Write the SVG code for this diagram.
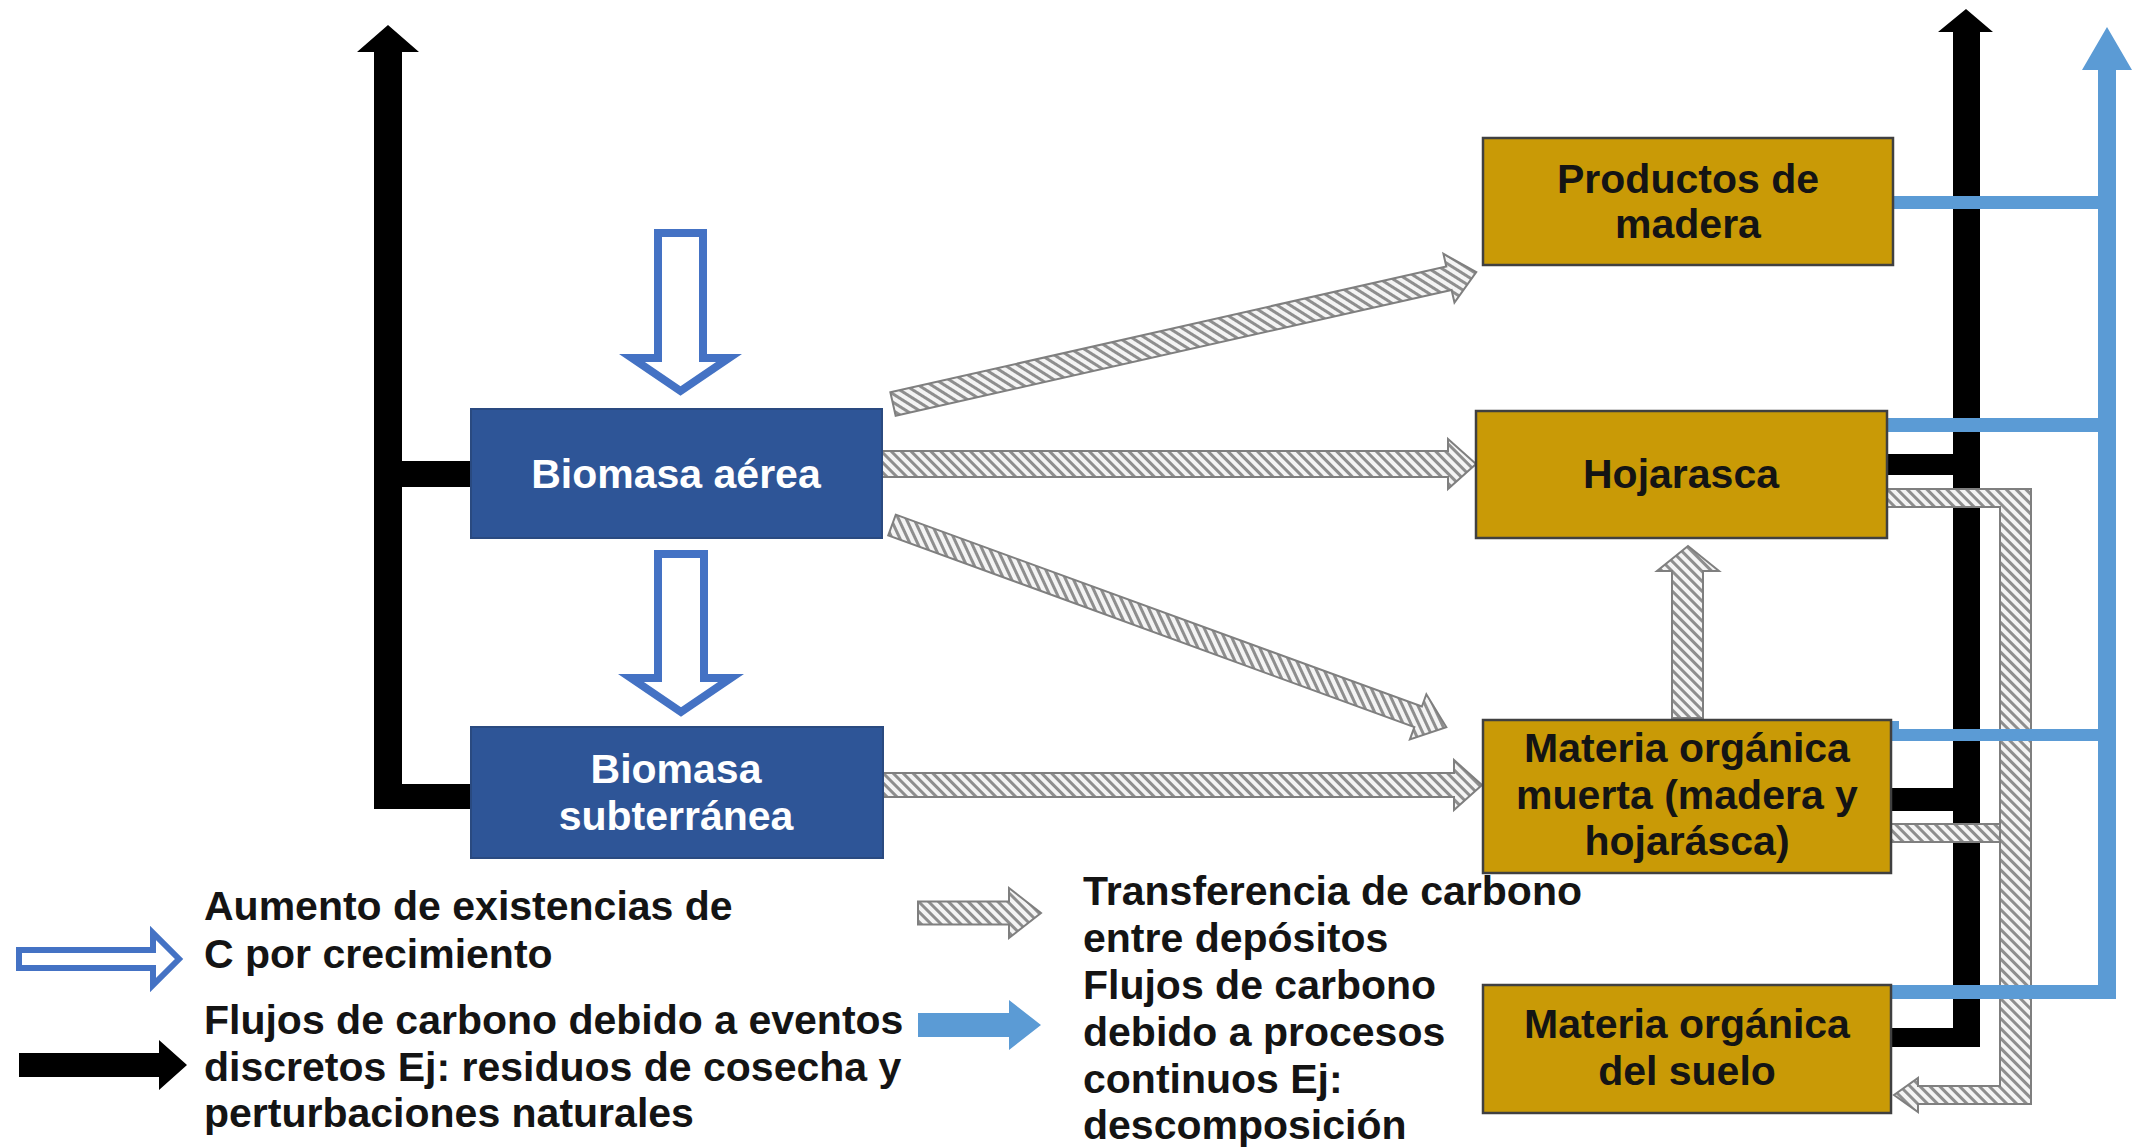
<svg xmlns="http://www.w3.org/2000/svg" width="2134" height="1147" viewBox="0 0 2134 1147">
<defs>
<pattern id="hatch" patternUnits="userSpaceOnUse" width="7" height="7" patternTransform="rotate(-45)">
<rect width="7" height="7" fill="#f4f4f4"/>
<rect width="3" height="7" fill="#8e8e8e"/>
</pattern>
<style>
.blk{fill:#000}
.blu{fill:#5B9BD5}
.hat{fill:url(#hatch);stroke:#7f7f7f;stroke-width:2;stroke-linejoin:miter}
.grow{fill:#fff;stroke:#4472C4;stroke-width:8;stroke-linejoin:miter}
.growl{fill:#fff;stroke:#4472C4;stroke-width:6;stroke-linejoin:miter}
.bbox{fill:#2E5597;stroke:#2A4A80;stroke-width:2}
.gbox{fill:#C99A06;stroke:#404040;stroke-width:2.5}
.t{font-family:"Liberation Sans",Arial,sans-serif;font-weight:bold;font-size:41px}
.tw{fill:#fff}
.tk{fill:#141414}
</style>
</defs>
<rect width="2134" height="1147" fill="#fff"/>

<g id="connectors">
<!-- left black discrete-event flows -->
<polygon class="blk" points="374,809 374,52 357,52 388,25 419,52 402,52 402,809"/>
<rect class="blk" x="388" y="461" width="84" height="26"/>
<rect class="blk" x="374" y="784" width="98" height="25"/>
<!-- growth arrows -->
<path class="grow" d="M658,233 H703 V358 H729 L680.5,391 L632,358 H658 Z"/>
<path class="grow" d="M658,554 H704 V678 H731 L681,712 L631,678 H658 Z"/>
<!-- transfers between pools -->
<polygon class="hat" transform="translate(893,404) rotate(-12.75)" points="0,-12 570,-12 570,-25 598,0 570,25 570,12 0,12"/>
<polygon class="hat" transform="translate(882,464)" points="0,-13 566,-13 566,-25 594,0 566,25 566,13 0,13"/>
<polygon class="hat" transform="translate(892,525) rotate(20.03)" points="0,-11 560,-11 560,-24 590,0 560,24 560,11 0,11"/>
<polygon class="hat" transform="translate(883,785)" points="0,-12 571,-12 571,-25 599,0 571,25 571,12 0,12"/>
<polygon class="hat" points="1672,718 1672,571 1657,571 1688,546 1719,571 1703,571 1703,718"/>
<!-- right black discrete-event flows -->
<polygon class="blk" points="1953,1047 1953,32 1938,32 1966,9 1993,32 1980,32 1980,1047"/>
<rect class="blk" x="1887" y="454" width="70" height="21"/>
<rect class="blk" x="1891" y="788" width="66" height="23"/>
<rect class="blk" x="1891" y="1028" width="89" height="19"/>
<!-- right hatched transfers to soil -->
<polygon class="hat" points="1887,489 2031,489 2031,1104 1918,1104 1918,1112 1894,1095 1918,1078 1918,1086 2000,1086 2000,507 1887,507"/>
<rect class="hat" x="1891" y="824" width="109" height="18"/>
<!-- right blue continuous flows -->
<polygon class="blu" points="2098,999 2098,70 2082,70 2107,27 2132,70 2116,70 2116,999"/>
<rect class="blu" x="1893" y="196" width="214" height="13"/>
<rect class="blu" x="1887" y="418" width="220" height="14"/>
<rect class="blu" x="1887" y="729" width="220" height="12"/>
<rect class="blu" x="1887" y="721" width="12" height="20"/>
<rect class="blu" x="1887" y="985" width="229" height="14"/>
</g>

<g id="node-biomasa-aerea">
<rect class="bbox" x="471" y="409" width="411" height="129"/>
<text class="t tw" x="676" y="488" text-anchor="middle">Biomasa aérea</text>
</g>
<g id="node-biomasa-subterranea">
<rect class="bbox" x="471" y="727" width="412" height="131"/>
<text class="t tw" x="676" y="783" text-anchor="middle">Biomasa</text>
<text class="t tw" x="676" y="830" text-anchor="middle">subterránea</text>
</g>
<g id="node-productos-madera">
<rect class="gbox" x="1483" y="138" width="410" height="127"/>
<text class="t tk" x="1688" y="193" text-anchor="middle">Productos de</text>
<text class="t tk" x="1688" y="238" text-anchor="middle">madera</text>
</g>
<g id="node-hojarasca">
<rect class="gbox" x="1476" y="411" width="411" height="127"/>
<text class="t tk" x="1681" y="488" text-anchor="middle">Hojarasca</text>
</g>
<g id="node-materia-organica-muerta">
<rect class="gbox" x="1483" y="720" width="408" height="153"/>
<text class="t tk" x="1687" y="762" text-anchor="middle">Materia orgánica</text>
<text class="t tk" x="1687" y="809" text-anchor="middle">muerta (madera y</text>
<text class="t tk" x="1687" y="855" text-anchor="middle">hojarásca)</text>
</g>
<g id="node-materia-organica-suelo">
<rect class="gbox" x="1483" y="985" width="408" height="128"/>
<text class="t tk" x="1687" y="1038" text-anchor="middle">Materia orgánica</text>
<text class="t tk" x="1687" y="1085" text-anchor="middle">del suelo</text>
</g>

<g id="legend">
<path class="growl" transform="translate(16,959)" d="M3,-9 H137 V-26 L163,0 L137,26 V9 H3 Z"/>
<polygon class="blk" transform="translate(19,1065)" points="0,-12 140,-12 140,-25 168,0 140,25 140,12 0,12"/>
<polygon class="hat" transform="translate(918,913)" points="0,-11.5 91,-11.5 91,-25 123,0 91,25 91,11.5 0,11.5"/>
<polygon class="blu" transform="translate(918,1025)" points="0,-12 91,-12 91,-25 123,0 91,25 91,12 0,12"/>
<text class="t tk" x="204" y="920">Aumento de existencias de</text>
<text class="t tk" x="204" y="968">C por crecimiento</text>
<text class="t tk" x="204" y="1034">Flujos de carbono debido a eventos</text>
<text class="t tk" x="204" y="1081">discretos Ej: residuos de cosecha y</text>
<text class="t tk" x="204" y="1127">perturbaciones naturales</text>
<text class="t tk" x="1083" y="905">Transferencia de carbono</text>
<text class="t tk" x="1083" y="952">entre depósitos</text>
<text class="t tk" x="1083" y="999">Flujos de carbono</text>
<text class="t tk" x="1083" y="1046">debido a procesos</text>
<text class="t tk" x="1083" y="1093">continuos Ej:</text>
<text class="t tk" x="1083" y="1139">descomposición</text>
</g>
</svg>
